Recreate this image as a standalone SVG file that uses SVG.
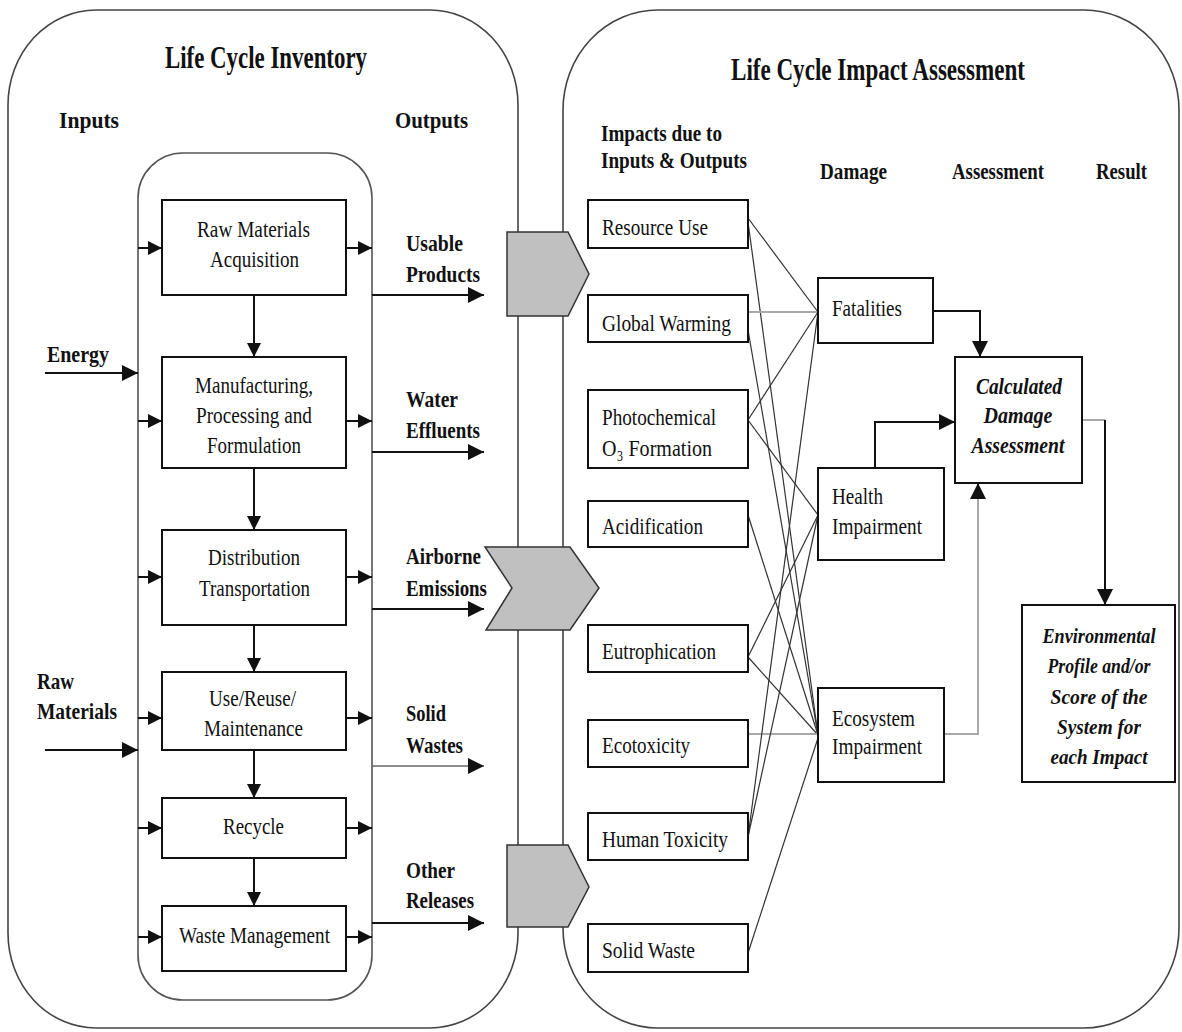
<svg xmlns="http://www.w3.org/2000/svg" width="1182" height="1032" viewBox="0 0 1182 1032">
<style>
.t{font-family:"Liberation Serif","Times New Roman",serif;fill:#111;font-size:24px}
.b{font-weight:bold;font-size:23px}
.h{font-weight:bold;font-size:31px}
.i{font-style:italic;font-weight:bold;font-size:24px}
.e{font-size:21px}
.m{text-anchor:middle}
.box{fill:#fff;stroke:#111;stroke-width:2}
.ln{stroke:#111;stroke-width:2;fill:none}
.thin{stroke:#333;stroke-width:1.2;fill:none}
.gray{stroke:#a8a8a8;stroke-width:2;fill:none}
.panel{fill:none;stroke:#444;stroke-width:1.6}
.inner{fill:none;stroke:#555;stroke-width:1.6}
.chev{fill:#c0c0c0;stroke:#333;stroke-width:1.5}
</style>
<defs>
<marker id="ah" markerUnits="userSpaceOnUse" markerWidth="16" markerHeight="16" refX="16" refY="8" orient="auto">
<path d="M0,0 L16,8 L0,16 z" fill="#111"/>
</marker>
<marker id="as" markerUnits="userSpaceOnUse" markerWidth="14" markerHeight="14" refX="14" refY="7" orient="auto">
<path d="M0,0 L14,7 L0,14 z" fill="#111"/>
</marker>
</defs>
<rect width="1182" height="1032" fill="#fff"/>

<g id="panel-lci">
<rect class="panel" x="8" y="10" width="510" height="1018" rx="88" ry="95"/>
<text class="t h" x="165" y="68" textLength="202" lengthAdjust="spacingAndGlyphs">Life Cycle Inventory</text>
<text class="t b" x="59" y="128" textLength="60" lengthAdjust="spacingAndGlyphs">Inputs</text>
<text class="t b" x="395" y="128" textLength="73" lengthAdjust="spacingAndGlyphs">Outputs</text>
<rect class="inner" x="138" y="153" width="234" height="847" rx="45"/>
</g>

<g id="panel-lcia">
<rect class="panel" x="563" y="10" width="616" height="1018" rx="95" ry="100"/>
<text class="t h" x="731" y="80" textLength="294" lengthAdjust="spacingAndGlyphs">Life Cycle Impact Assessment</text>
<text class="t b" x="601" y="141" textLength="121" lengthAdjust="spacingAndGlyphs">Impacts due to</text>
<text class="t b" x="601" y="168" textLength="146" lengthAdjust="spacingAndGlyphs">Inputs &amp; Outputs</text>
<text class="t b" x="820" y="179" textLength="67" lengthAdjust="spacingAndGlyphs">Damage</text>
<text class="t b" x="952" y="179" textLength="92" lengthAdjust="spacingAndGlyphs">Assessment</text>
<text class="t b" x="1096" y="179" textLength="51" lengthAdjust="spacingAndGlyphs">Result</text>
</g>

<g id="connectors">
<!-- process chain -->
<line class="ln" x1="254" y1="295" x2="254" y2="357" marker-end="url(#as)"/>
<line class="ln" x1="254" y1="468" x2="254" y2="530" marker-end="url(#as)"/>
<line class="ln" x1="254" y1="625" x2="254" y2="672" marker-end="url(#as)"/>
<line class="ln" x1="254" y1="750" x2="254" y2="798" marker-end="url(#as)"/>
<line class="ln" x1="254" y1="858" x2="254" y2="906" marker-end="url(#as)"/>
<!-- small inputs -->
<line class="ln" x1="138" y1="248" x2="162" y2="248" marker-end="url(#as)"/>
<line class="ln" x1="138" y1="421" x2="162" y2="421" marker-end="url(#as)"/>
<line class="ln" x1="138" y1="577" x2="162" y2="577" marker-end="url(#as)"/>
<line class="ln" x1="138" y1="718" x2="162" y2="718" marker-end="url(#as)"/>
<line class="ln" x1="138" y1="828" x2="162" y2="828" marker-end="url(#as)"/>
<line class="ln" x1="138" y1="937" x2="162" y2="937" marker-end="url(#as)"/>
<!-- small outputs -->
<line class="ln" x1="346" y1="248" x2="372" y2="248" marker-end="url(#as)"/>
<line class="ln" x1="346" y1="421" x2="372" y2="421" marker-end="url(#as)"/>
<line class="ln" x1="346" y1="577" x2="372" y2="577" marker-end="url(#as)"/>
<line class="ln" x1="346" y1="718" x2="372" y2="718" marker-end="url(#as)"/>
<line class="ln" x1="346" y1="828" x2="372" y2="828" marker-end="url(#as)"/>
<line class="ln" x1="346" y1="937" x2="372" y2="937" marker-end="url(#as)"/>
<!-- external inputs -->
<line class="ln" x1="45" y1="373" x2="138" y2="373" marker-end="url(#ah)"/>
<line class="ln" x1="45" y1="750" x2="138" y2="750" marker-end="url(#ah)"/>
<!-- outputs -->
<line class="ln" x1="372" y1="295" x2="484" y2="295" marker-end="url(#ah)"/>
<line class="ln" x1="372" y1="452" x2="484" y2="452" marker-end="url(#ah)"/>
<line class="ln" x1="372" y1="609" x2="484" y2="609" marker-end="url(#ah)"/>
<line class="ln" x1="372" y1="766" x2="484" y2="766" marker-end="url(#ah)" style="stroke:#666;stroke-width:1.5"/>
<line class="ln" x1="372" y1="923" x2="484" y2="923" marker-end="url(#ah)"/>
<!-- impacts to damages -->
<line class="thin" x1="748" y1="218" x2="818" y2="312"/>
<line class="thin" x1="748" y1="222" x2="818" y2="735"/>
<line class="gray" x1="748" y1="312" x2="818" y2="312"/>
<line class="thin" x1="748" y1="330" x2="818" y2="735"/>
<line class="thin" x1="748" y1="420" x2="818" y2="312"/>
<line class="thin" x1="748" y1="420" x2="818" y2="515"/>
<line class="thin" x1="748" y1="515" x2="818" y2="735"/>
<line class="thin" x1="748" y1="657" x2="818" y2="515"/>
<line class="thin" x1="748" y1="657" x2="818" y2="735"/>
<line class="gray" x1="748" y1="734" x2="818" y2="734"/>
<line class="thin" x1="748" y1="837" x2="818" y2="312"/>
<line class="thin" x1="748" y1="837" x2="818" y2="515"/>
<line class="thin" x1="748" y1="953" x2="818" y2="738"/>
<!-- damages to assessment -->
<polyline class="ln" points="933,311 980,311 980,357" marker-end="url(#ah)"/>
<polyline class="ln" points="875,468 875,422 955,422" marker-end="url(#ah)"/>
<polyline class="gray" points="944,734 978,734 978,497"/>
<line class="ln" x1="978" y1="499" x2="978" y2="483" marker-end="url(#ah)"/>
<polyline class="gray" points="1082,420 1105,420"/>
<line class="ln" x1="1105" y1="420" x2="1105" y2="605" marker-end="url(#ah)"/>
</g>

<g id="transfer-arrows">
<polygon class="chev" points="507,232 568,232 589,274 568,316 507,316"/>
<polygon class="chev" points="485,547 570,547 599,588 570,630 486,630 512,588"/>
<polygon class="chev" points="507,845 568,845 589,887 568,927 507,927"/>
</g>

<g id="input-labels">
<text class="t b" x="47" y="362" textLength="62" lengthAdjust="spacingAndGlyphs">Energy</text>
<text class="t b" x="37" y="689" textLength="37" lengthAdjust="spacingAndGlyphs">Raw</text>
<text class="t b" x="37" y="719" textLength="80" lengthAdjust="spacingAndGlyphs">Materials</text>
</g>

<g id="output-labels">
<text class="t b" x="406" y="251" textLength="57" lengthAdjust="spacingAndGlyphs">Usable</text>
<text class="t b" x="406" y="282" textLength="74" lengthAdjust="spacingAndGlyphs">Products</text>
<text class="t b" x="406" y="407" textLength="52" lengthAdjust="spacingAndGlyphs">Water</text>
<text class="t b" x="406" y="438" textLength="74" lengthAdjust="spacingAndGlyphs">Effluents</text>
<text class="t b" x="406" y="564" textLength="75" lengthAdjust="spacingAndGlyphs">Airborne</text>
<text class="t b" x="406" y="596" textLength="81" lengthAdjust="spacingAndGlyphs">Emissions</text>
<text class="t b" x="406" y="721" textLength="40" lengthAdjust="spacingAndGlyphs">Solid</text>
<text class="t b" x="406" y="753" textLength="57" lengthAdjust="spacingAndGlyphs">Wastes</text>
<text class="t b" x="406" y="878" textLength="49" lengthAdjust="spacingAndGlyphs">Other</text>
<text class="t b" x="406" y="908" textLength="68" lengthAdjust="spacingAndGlyphs">Releases</text>
</g>

<g id="raw-materials-acquisition">
<rect class="box" x="162" y="200" width="184" height="95"/>
<text class="t" x="197" y="237" textLength="113" lengthAdjust="spacingAndGlyphs">Raw Materials</text>
<text class="t" x="210" y="267" textLength="89" lengthAdjust="spacingAndGlyphs">Acquisition</text>
</g>
<g id="manufacturing">
<rect class="box" x="162" y="357" width="184" height="111"/>
<text class="t" x="195" y="393" textLength="118" lengthAdjust="spacingAndGlyphs">Manufacturing,</text>
<text class="t" x="196" y="423" textLength="116" lengthAdjust="spacingAndGlyphs">Processing and</text>
<text class="t" x="207" y="453" textLength="94" lengthAdjust="spacingAndGlyphs">Formulation</text>
</g>
<g id="distribution">
<rect class="box" x="162" y="530" width="184" height="95"/>
<text class="t" x="208" y="565" textLength="92" lengthAdjust="spacingAndGlyphs">Distribution</text>
<text class="t" x="199" y="596" textLength="111" lengthAdjust="spacingAndGlyphs">Transportation</text>
</g>
<g id="use-reuse">
<rect class="box" x="162" y="672" width="184" height="78"/>
<text class="t" x="209" y="706" textLength="87" lengthAdjust="spacingAndGlyphs">Use/Reuse/</text>
<text class="t" x="204" y="736" textLength="99" lengthAdjust="spacingAndGlyphs">Maintenance</text>
</g>
<g id="recycle">
<rect class="box" x="162" y="798" width="184" height="60"/>
<text class="t" x="223" y="834" textLength="61" lengthAdjust="spacingAndGlyphs">Recycle</text>
</g>
<g id="waste-management">
<rect class="box" x="162" y="906" width="184" height="65"/>
<text class="t" x="179" y="943" textLength="151" lengthAdjust="spacingAndGlyphs">Waste Management</text>
</g>

<g id="resource-use">
<rect class="box" x="588" y="200" width="160" height="48"/>
<text class="t" x="602" y="235" textLength="106" lengthAdjust="spacingAndGlyphs">Resource Use</text>
</g>
<g id="global-warming">
<rect class="box" x="588" y="295" width="160" height="47"/>
<text class="t" x="602" y="331" textLength="129" lengthAdjust="spacingAndGlyphs">Global Warming</text>
</g>
<g id="photochemical">
<rect class="box" x="588" y="390" width="160" height="78"/>
<text class="t" x="602" y="425" textLength="114" lengthAdjust="spacingAndGlyphs">Photochemical</text>
<text class="t" x="602" y="456" textLength="110" lengthAdjust="spacingAndGlyphs">O₃ Formation</text>
</g>
<g id="acidification">
<rect class="box" x="588" y="501" width="160" height="46"/>
<text class="t" x="602" y="534" textLength="101" lengthAdjust="spacingAndGlyphs">Acidification</text>
</g>
<g id="eutrophication">
<rect class="box" x="588" y="625" width="160" height="47"/>
<text class="t" x="602" y="659" textLength="114" lengthAdjust="spacingAndGlyphs">Eutrophication</text>
</g>
<g id="ecotoxicity">
<rect class="box" x="588" y="720" width="160" height="47"/>
<text class="t" x="602" y="753" textLength="88" lengthAdjust="spacingAndGlyphs">Ecotoxicity</text>
</g>
<g id="human-toxicity">
<rect class="box" x="588" y="813" width="160" height="47"/>
<text class="t" x="602" y="847" textLength="126" lengthAdjust="spacingAndGlyphs">Human Toxicity</text>
</g>
<g id="solid-waste">
<rect class="box" x="588" y="924" width="160" height="48"/>
<text class="t" x="602" y="958" textLength="93" lengthAdjust="spacingAndGlyphs">Solid Waste</text>
</g>

<g id="fatalities">
<rect class="box" x="818" y="278" width="115" height="65"/>
<text class="t" x="832" y="316" textLength="70" lengthAdjust="spacingAndGlyphs">Fatalities</text>
</g>
<g id="health-impairment">
<rect class="box" x="818" y="468" width="126" height="92"/>
<text class="t" x="832" y="504" textLength="51" lengthAdjust="spacingAndGlyphs">Health</text>
<text class="t" x="832" y="534" textLength="90" lengthAdjust="spacingAndGlyphs">Impairment</text>
</g>
<g id="ecosystem-impairment">
<rect class="box" x="818" y="688" width="126" height="94"/>
<text class="t" x="832" y="726" textLength="83" lengthAdjust="spacingAndGlyphs">Ecosystem</text>
<text class="t" x="832" y="754" textLength="90" lengthAdjust="spacingAndGlyphs">Impairment</text>
</g>

<g id="calculated-damage-assessment">
<rect class="box" x="955" y="357" width="127" height="126"/>
<text class="t i m" x="1019" y="394" textLength="86" lengthAdjust="spacingAndGlyphs">Calculated</text>
<text class="t i m" x="1018" y="423" textLength="69" lengthAdjust="spacingAndGlyphs">Damage</text>
<text class="t i m" x="1018" y="453" textLength="93" lengthAdjust="spacingAndGlyphs">Assessment</text>
</g>

<g id="environmental-profile">
<rect class="box" x="1022" y="605" width="153" height="177"/>
<text class="t i e m" x="1099" y="643" textLength="113" lengthAdjust="spacingAndGlyphs">Environmental</text>
<text class="t i e m" x="1099" y="673" textLength="103" lengthAdjust="spacingAndGlyphs">Profile and/or</text>
<text class="t i e m" x="1099" y="704" textLength="97" lengthAdjust="spacingAndGlyphs">Score of the</text>
<text class="t i e m" x="1099" y="734" textLength="84" lengthAdjust="spacingAndGlyphs">System for</text>
<text class="t i e m" x="1099" y="764" textLength="97" lengthAdjust="spacingAndGlyphs">each Impact</text>
</g>
</svg>
